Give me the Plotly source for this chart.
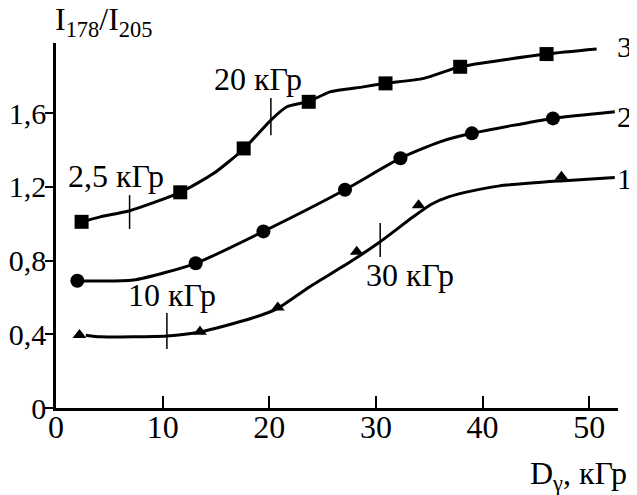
import plotly.graph_objects as go

# Marker data
s1_x = [2.2, 13.5, 20.8, 28.2, 34.0, 47.4]
s1_y = [0.396, 0.414, 0.545, 0.848, 1.100, 1.254]
s2_x = [2.0, 13.1, 19.45, 27.1, 32.3, 39.0, 46.6]
s2_y = [0.690, 0.785, 0.958, 1.184, 1.355, 1.490, 1.571]
s3_x = [2.4, 11.65, 17.6, 23.7, 30.9, 37.9, 46.0]
s3_y = [1.010, 1.170, 1.408, 1.661, 1.761, 1.851, 1.920]

# Smooth fitted curves
c1_x = [2.8, 4.2, 10.4, 13.5, 18.2, 20.7, 23.8, 27.6, 30.4, 33.5, 35.2, 36.8, 38.8, 41.6, 47.3, 52.4]
c1_y = [0.395, 0.386, 0.391, 0.412, 0.484, 0.538, 0.658, 0.793, 0.902, 1.037, 1.105, 1.145, 1.175, 1.205, 1.232, 1.251]
c2_x = [2.0, 7.25, 13.1, 19.45, 27.1, 32.3, 36.0, 39.0, 46.6, 52.4]
c2_y = [0.690, 0.694, 0.785, 0.958, 1.184, 1.355, 1.444, 1.490, 1.571, 1.607]
c3_x = [2.4, 4.15, 6.9, 11.65, 14.8, 17.6, 20.15, 21.65, 23.7, 25.7, 28.8, 30.9, 34.5, 37.9, 46.0, 50.7]
c3_y = [1.010, 1.037, 1.070, 1.170, 1.273, 1.405, 1.562, 1.634, 1.663, 1.715, 1.742, 1.761, 1.788, 1.851, 1.920, 1.947]

# Dose marks on curves
mark_x = [6.9, 20.15, 10.4, 30.4]
mark_y0 = [0.971, 1.480, 0.320, 0.819]
mark_y1 = [1.155, 1.681, 0.515, 1.003]
mark_text = ["2,5 кГр", "20 кГр", "10 кГр", "30 кГр"]
mark_tx = [5.65, 18.9, 10.87, 33.2]
mark_ty = [1.258, 1.784, 0.613, 0.721]

curve_names = ["1", "2", "3"]
name_y = [1.247, 1.583, 1.963]

yticks = [0, 0.4, 0.8, 1.2, 1.6]
yticktext = ["0", "0,4", "0,8", "1,2", "1,6"]
xticks = [0, 10, 20, 30, 40, 50]
xticktext = ["0", "10", "20", "30", "40", "50"]

FONT = "Liberation Serif"
XMAX, YMAX = 52.7, 1.98

fig = go.Figure()
for cx, cy in [(c1_x, c1_y), (c2_x, c2_y), (c3_x, c3_y)]:
    fig.add_trace(go.Scatter(x=cx, y=cy, mode="lines",
                             line=dict(color="black", width=3, shape="spline", smoothing=0.6),
                             hoverinfo="skip", showlegend=False))
fig.add_trace(go.Scatter(x=s1_x, y=s1_y, mode="markers",
                         marker=dict(symbol="triangle-up", size=12, color="black"), showlegend=False))
fig.add_trace(go.Scatter(x=s2_x, y=s2_y, mode="markers",
                         marker=dict(symbol="circle", size=14, color="black"), showlegend=False))
fig.add_trace(go.Scatter(x=s3_x, y=s3_y, mode="markers",
                         marker=dict(symbol="square", size=14, color="black"), showlegend=False))

for x, y0, y1 in zip(mark_x, mark_y0, mark_y1):
    fig.add_shape(type="line", x0=x, x1=x, y0=y0, y1=y1, xref="x", yref="y",
                  line=dict(color="black", width=1.5))

for t, x, y in zip(mark_text, mark_tx, mark_ty):
    fig.add_annotation(x=x / XMAX, y=y / YMAX, xref="paper", yref="paper", text=t,
                       showarrow=False, xanchor="center", yanchor="middle",
                       font=dict(family=FONT, size=32, color="black"))

for t, y in zip(curve_names, name_y):
    fig.add_annotation(x=0.995, y=y / YMAX, xref="paper", yref="paper", text=t,
                       showarrow=False, xanchor="left", yanchor="middle",
                       font=dict(family=FONT, size=30, color="black"))

fig.add_annotation(x=-0.006, y=1.058, xref="paper", yref="paper",
                   text="I<sub>178</sub>/I<sub>205</sub>", showarrow=False,
                   xanchor="left", yanchor="middle", font=dict(family=FONT, size=32, color="black"))
fig.add_annotation(x=1.02, y=-0.185, xref="paper", yref="paper",
                   text="D<sub>γ</sub>, кГр", showarrow=False,
                   xanchor="right", yanchor="middle", font=dict(family=FONT, size=32, color="black"))

fig.update_xaxes(range=[0, XMAX], showgrid=False, zeroline=False, showline=True, automargin=False,
                 linecolor="black", linewidth=2.5, ticks="inside", ticklen=12, tickwidth=1.5,
                 tickcolor="black", tickvals=xticks, ticktext=xticktext, ticklabelstandoff=-11,
                 tickfont=dict(family=FONT, size=32, color="black"))
fig.update_yaxes(range=[0, YMAX], showgrid=False, zeroline=False, showline=True, automargin=False,
                 linecolor="black", linewidth=2.5, ticks="outside", ticklen=8, tickwidth=1.5,
                 tickcolor="black", tickvals=yticks, ticktext=yticktext, ticklabelstandoff=-7,
                 tickfont=dict(family=FONT, size=30, color="black"))

# the page body adds an 8px offset, so margins are shifted accordingly
fig.update_layout(width=637, height=495, margin=dict(l=48, r=27, t=35, b=95),
                  plot_bgcolor="white", paper_bgcolor="white", showlegend=False)

fig.write_html("out.html")
